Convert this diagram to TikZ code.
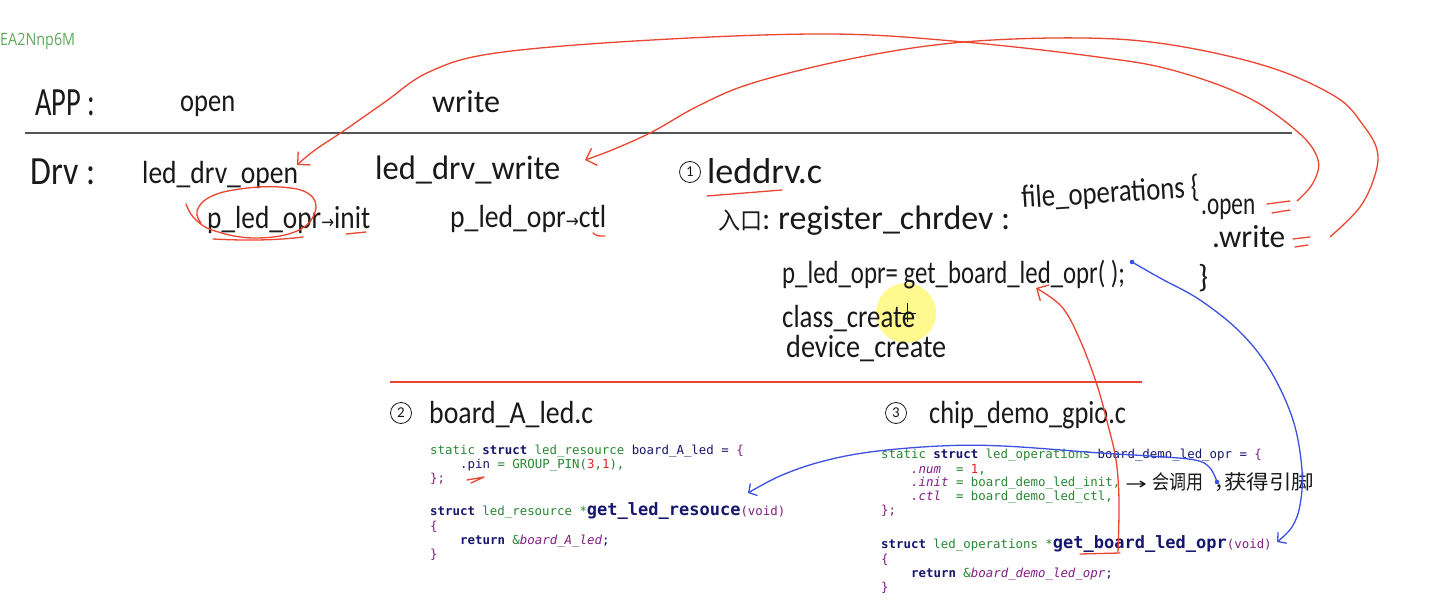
\documentclass[tikz,border=0pt]{standalone}
\usepackage{fontspec}
\usepackage{graphicx}
\usetikzlibrary{arrows.meta}
\setmainfont{Carlito}
\newfontfamily\hwf{Carlito}
\newfontfamily\cjk{Noto Sans CJK SC}
\newfontfamily\symf{DejaVu Sans}
\newfontfamily\codef{DejaVu Sans Mono}
\newfontfamily\uif{Open Sans}
\definecolor{ink}{RGB}{25,25,25}
\definecolor{penred}{RGB}{235,70,50}
\definecolor{penblue}{RGB}{60,80,225}
\definecolor{cgreen}{RGB}{40,135,50}
\definecolor{cnavy}{RGB}{22,22,110}
\definecolor{cpurple}{RGB}{130,30,130}
\definecolor{cred}{RGB}{225,35,35}
\definecolor{rulegray}{RGB}{85,85,85}
\definecolor{labgreen}{RGB}{95,170,95}
\newcommand\hwx[2]{\resizebox{#1pt}{\height}{#2}}
\newcommand\kG[1]{\textcolor{cgreen}{#1}}
\newcommand\kN[1]{\textcolor{cnavy}{#1}}
\newcommand\kP[1]{\textcolor{cpurple}{#1}}
\newcommand\kR[1]{\textcolor{cred}{#1}}
\newcommand\kBig[1]{{\fontsize{17}{17}\selectfont\bfseries\color{cnavy}#1}}
\begin{document}
\begin{tikzpicture}[x=1pt,y=-1pt,
  hw/.style={font=\hwf\fontsize{32}{34}\selectfont, text=ink, inner sep=0pt, anchor=base west},
  hwbig/.style={hw, font=\hwf\fontsize{40}{42}\selectfont},
  code/.style={font=\codef\fontsize{12.4}{14}\selectfont, inner sep=0pt, anchor=base west},
  num/.style={draw=ink, circle, line width=0.8pt, minimum size=21pt, inner sep=0pt, font=\hwf\fontsize{15}{15}\selectfont, text=ink},
  pen/.style={draw=penred, line width=1.3pt, line cap=round, line join=round},
  bpen/.style={draw=penblue, line width=1.3pt, line cap=round, line join=round},
  rarrow/.style={pen, -{Straight Barb[length=9pt,width=18pt]}},
  barrow/.style={bpen, -{Straight Barb[length=6pt,width=14pt]}}]
\useasboundingbox (0,0) rectangle (1435,601);
\fill[white] (0,0) rectangle (1435,601);

% cursor highlight
\fill[yellow!55!white, opacity=0.8] (906,313) circle (30pt);

% label
\node[inner sep=0pt, anchor=base west, font=\uif\fontsize{17}{18}\selectfont, text=labgreen] (lab) at (0,46) {\hwx{75}{EA2Nnp6M}};

% separators
\draw[rulegray, line width=1.8pt] (25,133) -- (1292,133);
\draw[penred, line width=1.3pt] (390,382) -- (1142,382);

% APP / Drv rows
\node[hwbig] (app) at (35,116) {\hwx{60}{APP :}};
\node[hw] (openA) at (180,112) {\hwx{55}{open}};
\node[hw] (writeA) at (432,113) {\hwx{68}{write}};
\node[hwbig] (drv) at (30,185) {\hwx{65}{Drv :}};
\node[hw] (ldo) at (142,184) {\hwx{156}{led\_drv\_open}};
\node[hw, font=\hwf\fontsize{34}{36}\selectfont] (ldw) at (375,180) {\hwx{185}{led\_drv\_write}};
\node[hw] (pinit) at (207,229) {\hwx{163}{p\_led\_opr{\symf\fontsize{18}{18}\selectfont →}init}};
\node[hw] (pctl) at (450,228) {\hwx{156}{p\_led\_opr{\symf\fontsize{18}{18}\selectfont →}ctl}};

% leddrv.c block
\node[num] (c1) at (690,172) {1};
\node[hw, font=\hwf\fontsize{36}{38}\selectfont] (leddrv) at (707,184) {\hwx{115}{leddrv.c}};
\node[hw] (entry) at (718,230) {\hwx{52}{{\cjk\fontsize{24}{24}\selectfont 入口}:}};
\node[hw, font=\hwf\fontsize{34}{36}\selectfont] (reg) at (778,230) {\hwx{232}{register\_chrdev :}};
\node[hw, rotate=3.6] (fops) at (1022,208) {\hwx{178}{file\_operations \{}};
\node[hw] (dopen) at (1201,215) {\hwx{54}{.open}};
\node[hw] (dwrite) at (1212,248) {\hwx{73}{.write}};
\node[hw] (rbr) at (1198,288) {\}};
\node[hw] (pass) at (782,284) {\hwx{343}{p\_led\_opr= get\_board\_led\_opr( );}};
\node[hw] (cls) at (782,328) {\hwx{133}{class\_create}};
\node[hw] (dev) at (786,358) {\hwx{160}{device\_create}};

% cursor cross
\draw[ink, line width=0.8pt] (907,303) -- (907,322) (897,313) -- (916,313);

% file headers
\node[num] (c2) at (401,413) {2};
\node[hw] (bA) at (429,424) {\hwx{164}{board\_A\_led.c}};
\node[num] (c3) at (896,413) {3};
\node[hw] (chip) at (929,424) {\hwx{197}{chip\_demo\_gpio.c}};

% left code
\node[code] (l1) at (430,454) {\kG{static} \kN{\bfseries struct} \kG{led\_resource} \kN{board\_A\_led} \kN{=} \kP{\{}};
\node[code] (l2) at (460,468) {\kN{.pin} \kG{= GROUP\_PIN(}\kR{3}\kG{,}\kR{1}\kG{),}};
\node[code] (l3) at (430,482) {\kP{\};}};
\node[code] (l4) at (430,515) {\kN{\bfseries struct} \kG{led\_resource} \kG{*}\kBig{get\_led\_resouce}\kP{(void)}};
\node[code] (l5) at (430,530) {\kP{\{}};
\node[code] (l6) at (460,544) {\kN{\bfseries return} \kG{\&}\kP{\itshape board\_A\_led}\kN{;}};
\node[code] (l7) at (430,558) {\kP{\}}};

% right code
\node[code] (r1) at (881,458) {\kG{static} \kN{\bfseries struct} \kG{led\_operations} \kN{board\_demo\_led\_opr} \kN{=} \kP{\{}};
\node[code] (r2) at (911,473) {\kP{\itshape .num}\ \ \kG{=} \kR{1}\kG{,}};
\node[code] (r3) at (911,486) {\kP{\itshape .init} \kG{= board\_demo\_led\_init,}};
\node[code] (r4) at (911,500) {\kP{\itshape .ctl}\ \ \kG{= board\_demo\_led\_ctl,}};
\node[code] (r5) at (881,514) {\kP{\};}};
\node[code] (r6) at (881,548) {\kN{\bfseries struct} \kG{led\_operations} \kG{*}\kBig{get\_board\_led\_opr}\kP{(void)}};
\node[code] (r7) at (881,563) {\kP{\{}};
\node[code] (r8) at (911,577) {\kN{\bfseries return} \kG{\&}\kP{\itshape board\_demo\_led\_opr}\kN{;}};
\node[code] (r9) at (881,591) {\kP{\}}};

% annotation
\node[hw, font=\symf\fontsize{16}{16}\selectfont] (arr) at (1125,489) {\hwx{22}{→}};
\node[hw, font=\cjk\fontsize{20}{20}\selectfont] (note1) at (1152,489) {\hwx{51}{会调用}};
\node[hw, font=\cjk\fontsize{20}{20}\selectfont] (note2) at (1214,489) {，};
\node[hw, font=\cjk\fontsize{20}{20}\selectfont] (note3) at (1224,489) {\hwx{90}{获得引脚}};

% red marks
\draw[pen] plot[smooth, tension=0.7] coordinates {(186,204) (195,219) (215,231) (255,238) (297,231) (315,212) (309,194) (280,187) (240,189) (210,197) (197,211) (201,223)};
\draw[pen] (213,239) .. controls (250,241) and (280,240) .. (303,237);
\draw[pen] (346,234) -- (366,232);
\draw[pen] (593,233) .. controls (597,236) .. (605,236);
\draw[pen] (707,196) -- (782,190);
\draw[pen] (1267,204) -- (1290,201);
\draw[pen] (1272,213) -- (1290,210);
\draw[pen] (1293,239) -- (1310,237);
\draw[pen] (1295,247) -- (1308,245);
\draw[pen] (467,480) -- (484,477) -- (471,483);
\draw[pen] (1080,554) -- (1120,553);

% red arrows
\coordinate (aS) at (1297,201);
\coordinate (aE) at (297,165);
\draw[rarrow] plot[smooth, tension=0.6] coordinates {(aS) (1313,183) (1318,160) (1299,133) (1247,97) (1172,70) (1098,57) (964,42) (830,34) (652,40) (496,53) (429,72) (385,102) (345,130) (315,150) (aE)};
\coordinate (bS) at (1330,237);
\coordinate (bE) at (585,160);
\draw[rarrow] plot[smooth, tension=0.6] coordinates {(bS) (1360,207) (1375,175) (1377,150) (1363,125) (1336,97) (1269,67) (1172,45) (1083,38) (964,42) (860,57) (756,82) (700,105) (652,132) (612,150) (bE)};
\coordinate (cS) at (1118,552);
\coordinate (cE) at (1036,288);
\draw[rarrow] plot[smooth, tension=0.6] coordinates {(cS) (1119,500) (1116,460) (1108,425) (1097,385) (1080,340) (1062,307) (cE)};

% blue arrows
\coordinate (dS) at (1217,482);
\coordinate (dE) at (748,493);
\fill[penblue] (dS) circle (2.3pt);
\draw[barrow] plot[smooth, tension=0.6] coordinates {(dS) (1210,468) (1195,460) (1150,456) (1100,453) (1003,446) (940,446) (870,452) (820,462) (780,476) (dE)};
\coordinate (eS) at (1132,262);
\coordinate (eE) at (1277,542);
\fill[penblue] (eS) circle (2.3pt);
\draw[barrow] plot[smooth, tension=0.6] coordinates {(eS) (1160,278) (1200,300) (1240,332) (1270,370) (1293,420) (1302,470) (1300,505) (1292,527) (eE)};
\end{tikzpicture}
\end{document}
